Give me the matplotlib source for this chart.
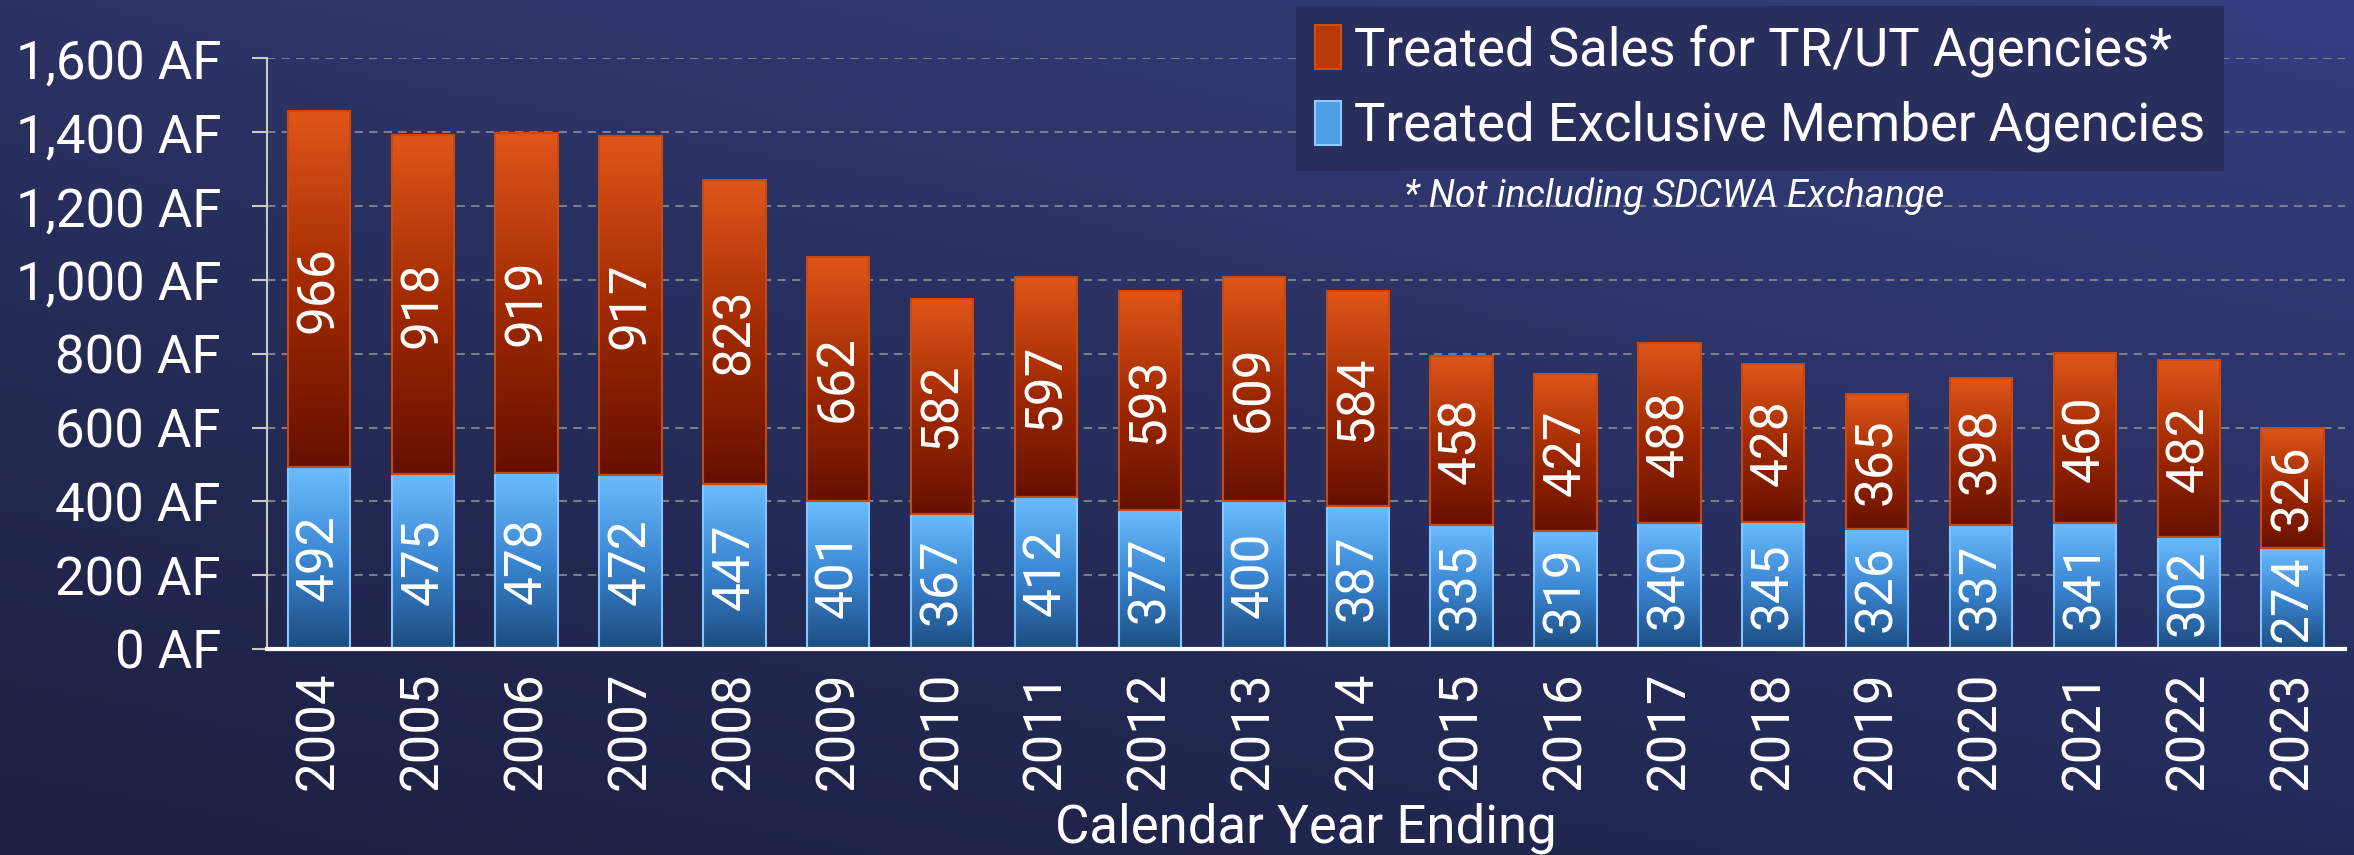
import numpy as np
import matplotlib
matplotlib.use("Agg")
import matplotlib.pyplot as plt
from matplotlib.colors import LinearSegmentedColormap
from matplotlib.patches import Patch

years = [str(y) for y in range(2004, 2024)]
member = [492, 475, 478, 472, 447, 401, 367, 412, 377, 400,
          387, 335, 319, 340, 345, 326, 337, 341, 302, 274]
trut = [966, 918, 919, 917, 823, 662, 582, 597, 593, 609,
        584, 458, 427, 488, 428, 365, 398, 460, 482, 326]
yticks = [0, 200, 400, 600, 800, 1000, 1200, 1400, 1600]
ytick_labels = ["{:,} AF".format(v) for v in yticks]

plt.rcParams["font.family"] = ["Roboto", "DejaVu Sans"]

fig = plt.figure(figsize=(23.54, 8.55), dpi=100)

# background gradient (dark bottom-left -> lighter top-right)
bg = fig.add_axes([0, 0, 1, 1], zorder=-10)
h, w = 200, 400
yy, xx = np.mgrid[0:1:h * 1j, 0:1:w * 1j]
tl = np.array([44, 51, 100]) / 255
tr = np.array([53, 63, 128]) / 255
bl = np.array([28, 31, 63]) / 255
br = np.array([36, 42, 88]) / 255
img = ((1 - xx)[..., None] * (1 - yy)[..., None] * tl + xx[..., None] * (1 - yy)[..., None] * tr
       + (1 - xx)[..., None] * yy[..., None] * bl + xx[..., None] * yy[..., None] * br)
bg.imshow(img, aspect="auto", extent=[0, 1, 0, 1])
bg.axis("off")

ax = fig.add_axes([0.1134, 0.241, 0.8826, 0.6906])
ax.set_facecolor("none")

x = np.arange(len(years))
b1 = ax.bar(x, member, width=0.6, color="none", edgecolor="#84c6ff", linewidth=1.5, zorder=3)
b2 = ax.bar(x, trut, width=0.6, bottom=member, color="none", edgecolor="#c8480e", linewidth=1.5, zorder=3)

blue_cm = LinearSegmentedColormap.from_list("b", ["#1d4c80", "#3a86d2", "#6cbcfd"])
red_cm = LinearSegmentedColormap.from_list("r", ["#661000", "#a02a02", "#e0561a"])
grad = np.linspace(0, 1, 256).reshape(-1, 1)
for bars, cm in ((b1, blue_cm), (b2, red_cm)):
    for p in bars:
        bx, by = p.get_x(), p.get_y()
        im = ax.imshow(grad, cmap=cm, origin="lower", aspect="auto", zorder=2,
                       extent=[bx, bx + p.get_width(), by, by + p.get_height()])
        im.set_clip_path(p)

ax.bar_label(b1, labels=[str(v) for v in member], label_type="center", rotation=90,
             color="white", fontsize=37)
ax.bar_label(b2, labels=[str(v) for v in trut], label_type="center", rotation=90,
             color="white", fontsize=37)

ax.set_xlim(-0.5, len(years) - 0.5)
ax.set_ylim(0, 1600)
ax.set_yticks(yticks)
ax.set_yticklabels(ytick_labels)
ax.set_xticks(x)
ax.set_xticklabels(years, rotation=90)
ax.tick_params(axis="y", colors="#c8c8c8", labelcolor="white", labelsize=38, length=11, width=1.5, pad=22)
ax.tick_params(axis="x", length=0, labelcolor="white", labelsize=38, pad=16)
ax.grid(axis="y", linestyle=(0, (4, 3)), color="#7a7c88", linewidth=1.5, zorder=0)
ax.set_axisbelow(True)
for s in ("top", "right"):
    ax.spines[s].set_visible(False)
ax.spines["left"].set_color("#c8c8c8")
ax.spines["left"].set_linewidth(1.5)
ax.spines["bottom"].set_color("white")
ax.spines["bottom"].set_linewidth(3)
ax.spines["bottom"].set_zorder(4)

ax.set_xlabel("Calendar Year Ending", color="white", fontsize=38, labelpad=9)

handles = [Patch(facecolor="#b83806", edgecolor="#d0500f", linewidth=1.5),
           Patch(facecolor="#4f9fe8", edgecolor="#8ccaff", linewidth=1.5)]
leg = fig.legend(handles, ["Treated Sales for TR/UT Agencies*", "Treated Exclusive Member Agencies"],
                 loc="upper left", bbox_to_anchor=(0.5506, 0.993), fontsize=38,
                 frameon=True, fancybox=False, facecolor="#292e5c", edgecolor="none", framealpha=1,
                 handlelength=0.5, handleheight=0.9, handletextpad=0.25, labelspacing=0.45,
                 borderpad=0.35, borderaxespad=0)
for t in leg.get_texts():
    t.set_color("white")

fig.text(0.5966, 0.77, "* Not including SDCWA Exchange", color="white", fontsize=27,
         style="italic", va="center", ha="left")

fig.savefig("out.png", dpi=100)
